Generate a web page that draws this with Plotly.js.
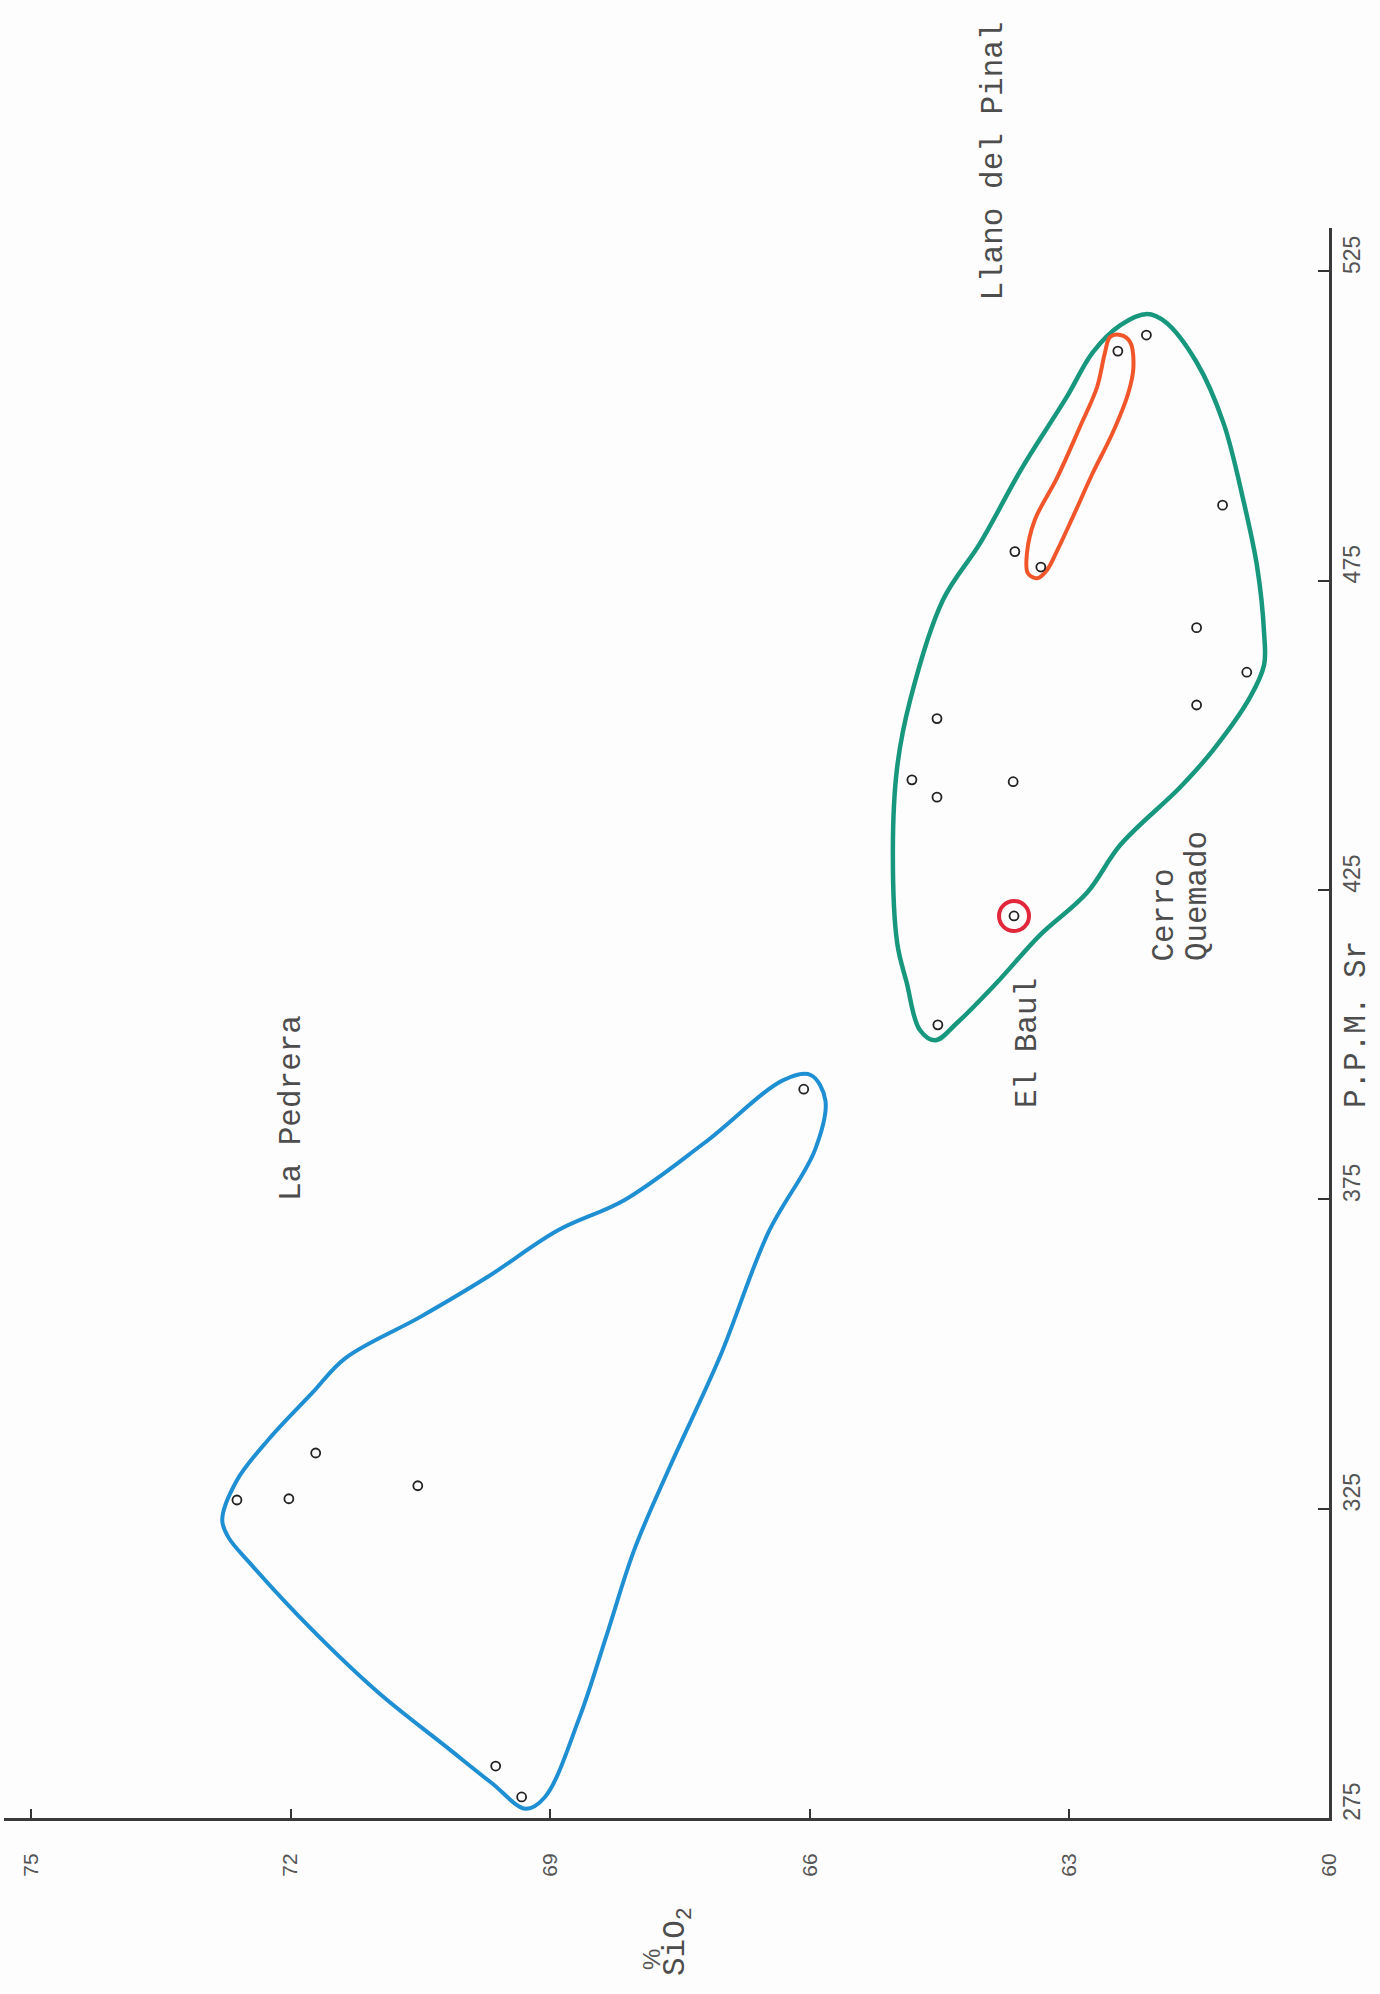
<!DOCTYPE html>
<html>
<head>
<meta charset="utf-8">
<script src="https://cdn.plot.ly/plotly-3.0.1.min.js"></script>
<style>
  html, body { margin: 0; padding: 0; background: #fdfdfd; }
  #chart { width: 1380px; height: 1994px; }
</style>
</head>
<body>
<div id="chart"></div>
<script>
// Axis ticks: % SiO2 (horizontal, decreasing to the right) and P.P.M. Sr (vertical)
const sio2Ticks = [75, 72, 69, 66, 63, 60];
const srTicks = [275, 325, 375, 425, 475, 525];

// La Pedrera samples
const laPedreraSio2 = [72.62, 72.02, 71.71, 70.53, 69.63, 69.33, 66.07];
const laPedreraSr   = [326.4, 326.6, 334.0, 328.7, 283.4, 278.4, 392.8];

// Cerro Quemado samples
const cerroQuemadoSio2 = [62.11, 61.23, 63.63, 61.53, 60.95, 61.53, 64.53, 64.82, 63.65, 64.53, 64.52];
const cerroQuemadoSr   = [514.7, 487.2, 479.7, 467.4, 460.2, 454.9, 452.7, 442.8, 442.5, 440.0, 403.2];

// Llano del Pinal samples
const llanoPinalSio2 = [62.44, 63.33];
const llanoPinalSr   = [512.1, 477.2];

// El Baul sample
const elBaulSio2 = [63.64];
const elBaulSr   = [420.8];

// Hand-drawn field boundaries (closed outlines)
const laPedreraFieldSio2 = [70.50, 69.73, 68.91, 68.14, 67.22, 66.30, 65.99, 65.82, 65.94, 66.48, 67.04, 67.62, 68.03, 68.34, 68.66, 69.06, 69.28, 69.68, 70.20, 70.98, 71.75, 72.47, 72.72, 72.79, 72.62, 72.26, 71.75, 71.37, 70.50];
const laPedreraFieldSr   = [356.0, 362.4, 370.0, 374.9, 384.1, 394.3, 395.1, 391.0, 383.0, 369.6, 349.5, 331.7, 318.3, 304.9, 291.3, 278.4, 276.5, 280.7, 286.5, 295.2, 305.4, 316.2, 320.4, 323.2, 329.6, 336.1, 343.7, 349.3, 356.0];

const cerroQuemadoFieldSio2 = [63.54, 63.03, 62.73, 62.41, 62.10, 61.89, 61.53, 61.22, 60.99, 60.83, 60.75, 60.75, 60.91, 61.34, 61.72, 62.41, 62.80, 63.34, 63.84, 64.30, 64.55, 64.73, 64.88, 64.99, 65.04, 64.99, 64.84, 64.46, 64.03, 63.54];
const cerroQuemadoFieldSr   = [493.4, 504.7, 511.9, 516.3, 518.1, 516.8, 510.3, 500.5, 488.0, 477.2, 466.5, 461.4, 456.2, 447.6, 441.6, 432.3, 424.5, 417.7, 410.0, 403.5, 400.7, 402.4, 410.0, 416.4, 431.5, 444.9, 455.7, 471.9, 481.1, 493.4];

const llanoPinalFieldSio2 = [62.88, 62.68, 62.59, 62.53, 62.41, 62.30, 62.26, 62.32, 62.50, 62.73, 62.96, 63.14, 63.26, 63.37, 63.48, 63.49, 63.40, 63.14, 62.88];
const llanoPinalFieldSr   = [499.8, 506.3, 511.8, 514.4, 514.7, 513.6, 509.5, 505.3, 498.9, 492.4, 485.3, 479.9, 476.7, 475.4, 476.2, 479.5, 484.8, 491.7, 499.8];

const TYPE_FONT = 'Liberation Mono, DejaVu Sans Mono, monospace';
const HAND_FONT = 'Liberation Sans, DejaVu Sans, sans-serif';
const INK = '#4d4d4d';

function outline(xs, ys, color, width) {
  return {
    type: 'scatter', mode: 'lines', x: xs, y: ys,
    line: { color: color, width: width, shape: 'spline', smoothing: 1 },
    hoverinfo: 'skip'
  };
}

function samples(xs, ys, name) {
  return {
    type: 'scatter', mode: 'markers', x: xs, y: ys, name: name,
    marker: { symbol: 'circle-open', size: 9, color: '#222', line: { width: 1.8 } },
    cliponaxis: false
  };
}

const traces = [
  outline(laPedreraFieldSio2, laPedreraFieldSr, '#1f8fd3', 4),
  outline(cerroQuemadoFieldSio2, cerroQuemadoFieldSr, '#17987e', 4.5),
  outline(llanoPinalFieldSio2, llanoPinalFieldSr, '#f0562a', 4),
  samples(laPedreraSio2, laPedreraSr, 'La Pedrera'),
  samples(cerroQuemadoSio2, cerroQuemadoSr, 'Cerro Quemado'),
  samples(llanoPinalSio2, llanoPinalSr, 'Llano del Pinal'),
  samples(elBaulSio2, elBaulSr, 'El Baul'),
  {
    type: 'scatter', mode: 'markers', x: elBaulSio2, y: elBaulSr,
    marker: { symbol: 'circle-open', size: 30, color: '#e2263b', line: { width: 4 } },
    hoverinfo: 'skip'
  }
];

// Typewritten labels, rotated to read bottom-to-top
function label(text, x, y, opts) {
  return Object.assign({
    text: text, x: x, y: y, xref: 'paper', yref: 'paper',
    xanchor: 'center', yanchor: 'middle',
    showarrow: false, textangle: -90,
    font: { family: TYPE_FONT, size: 31, color: INK }
  }, opts || {});
}

const layout = {
  width: 1380, height: 1994,
  margin: { l: 4, r: 51, t: 228, b: 176, pad: 0 },
  paper_bgcolor: '#fdfdfd', plot_bgcolor: '#fdfdfd',
  showlegend: false,
  xaxis: {
    range: [75.312, 60],
    tickmode: 'array', tickvals: sio2Ticks, ticktext: sio2Ticks.map(String),
    ticks: 'inside', ticklen: 9, tickwidth: 2, tickcolor: '#333',
    showline: true, linewidth: 3, linecolor: '#3a3a3a',
    showgrid: false, zeroline: false,
    tickangle: -90, ticklabelstandoff: 24,
    tickfont: { family: HAND_FONT, size: 21, color: '#555' }
  },
  yaxis: {
    side: 'right',
    range: [275, 532],
    tickmode: 'array', tickvals: srTicks, ticktext: srTicks.map(String),
    ticks: 'inside', ticklen: 11, tickwidth: 2, tickcolor: '#333',
    showline: true, linewidth: 3, linecolor: '#3a3a3a',
    showgrid: false, zeroline: false,
    tickangle: -90, ticklabelstandoff: 0, ticklabelshift: -13,
    tickfont: { family: HAND_FONT, size: 23, color: '#555' }
  },
  annotations: [
    label('La Pedrera', 0.2166, 0.4465),
    label('Llano del Pinal', 0.7472, 0.9528, { yanchor: 'bottom' }),
    label('El Baul', 0.7721, 0.4874),
    label('Cerro', 0.8762, 0.5377, { yanchor: 'bottom' }),
    label('Quemado', 0.9004, 0.5377, { yanchor: 'bottom' }),
    label('P.P.M. Sr', 1.0204, 0.4987),
    label('SiO<sub>2</sub>', 0.5087, -0.0780),
    label('%', 0.4883, -0.0887, { font: { family: HAND_FONT, size: 24, color: '#555' } })
  ]
};

Plotly.newPlot('chart', traces, layout, { staticPlot: true, displayModeBar: false });
</script>
</body>
</html>
